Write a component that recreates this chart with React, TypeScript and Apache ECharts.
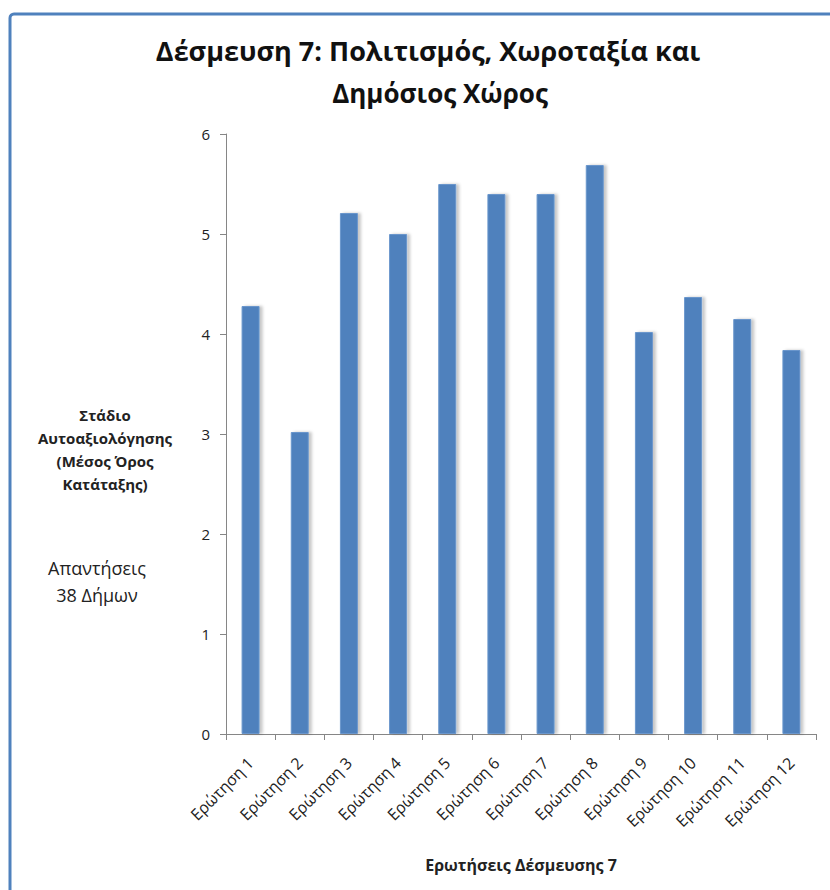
import React, { useEffect, useRef } from "react";
import * as echarts from "echarts";

const categories = [
  "Ερώτηση 1", "Ερώτηση 2", "Ερώτηση 3", "Ερώτηση 4", "Ερώτηση 5", "Ερώτηση 6",
  "Ερώτηση 7", "Ερώτηση 8", "Ερώτηση 9", "Ερώτηση 10", "Ερώτηση 11", "Ερώτηση 12",
];
const values = [4.28, 3.02, 5.21, 5.0, 5.5, 5.4, 5.4, 5.69, 4.02, 4.37, 4.15, 3.84];
const titleLines = ["Δέσμευση 7: Πολιτισμός, Χωροταξία και", "Δημόσιος Χώρος"];
const yAxisTitle = "Στάδιο\nΑυτοαξιολόγησης\n(Μέσος Όρος\nΚατάταξης)";
const note = "Απαντήσεις\n38 Δήμων";
const xAxisTitle = "Ερωτήσεις Δέσμευσης 7";

const FONT = "'Open Sans', 'Noto Sans', sans-serif";

export default function App() {
  const ref = useRef<HTMLDivElement>(null);
  useEffect(() => {
    if (!ref.current) return;
    const chart = echarts.init(ref.current, null, { renderer: "svg" });
    chart.setOption({
      animation: false,
      backgroundColor: "#ffffff",
      textStyle: { fontFamily: FONT },
      grid: { left: 226, right: 14, top: 134, bottom: 156, containLabel: false },
      xAxis: {
        type: "category",
        data: categories,
        boundaryGap: true,
        axisLine: { lineStyle: { color: "#868686", width: 1 } },
        axisTick: { show: true, alignWithLabel: false, length: 6, lineStyle: { color: "#868686" } },
        axisLabel: { rotate: 45, fontSize: 16, color: "#222", margin: 26, fontFamily: FONT, interval: 0 },
        name: xAxisTitle,
        nameLocation: "middle",
        nameGap: 123,
        nameTextStyle: { fontSize: 16, fontWeight: "bold", color: "#222", fontFamily: FONT },
      },
      yAxis: {
        type: "value",
        min: 0,
        max: 6,
        interval: 1,
        splitLine: { show: false },
        axisLine: { show: true, lineStyle: { color: "#868686", width: 1 } },
        axisTick: { show: true, length: 6, lineStyle: { color: "#868686" } },
        axisLabel: { fontSize: 15, color: "#222", margin: 16, fontFamily: FONT },
      },
      series: [
        {
          type: "bar",
          data: values,
          barWidth: 18,
          itemStyle: {
            color: "#4F81BD",
            borderColor: "#6A96CC",
            borderWidth: 1,
            shadowColor: "rgba(0,0,0,0.22)",
            shadowBlur: 3,
            shadowOffsetX: 3,
            shadowOffsetY: 0,
          },
        },
      ],
      graphic: [
        {
          type: "rect",
          shape: { x: 10, y: 14, width: 900, height: 1000, r: 4 },
          style: { fill: "none", stroke: "#4F81BD", lineWidth: 3 },
          silent: true,
        },
        {
          type: "text",
          x: 428,
          y: 50,
          style: {
            text: titleLines[0],
            font: `bold 27px ${FONT}`,
            fill: "#111",
            textAlign: "center",
            textVerticalAlign: "middle",
          },
        },
        {
          type: "text",
          x: 440,
          y: 93,
          style: {
            text: titleLines[1],
            font: `bold 26px ${FONT}`,
            fill: "#111",
            textAlign: "center",
            textVerticalAlign: "middle",
          },
        },
        {
          type: "text",
          x: 105,
          y: 403,
          style: {
            text: yAxisTitle,
            font: `bold 15px ${FONT}`,
            fill: "#222",
            textAlign: "center",
            lineHeight: 23,
          },
        },
        {
          type: "text",
          x: 97,
          y: 554,
          style: {
            text: note,
            font: `18px ${FONT}`,
            fill: "#222",
            textAlign: "center",
            lineHeight: 27,
          },
        },
      ],
    });
    return () => chart.dispose();
  }, []);
  return (
    <div
      ref={ref}
      style={{ position: "absolute", left: 0, top: 0, width: 830, height: 890 }}
    />
  );
}
